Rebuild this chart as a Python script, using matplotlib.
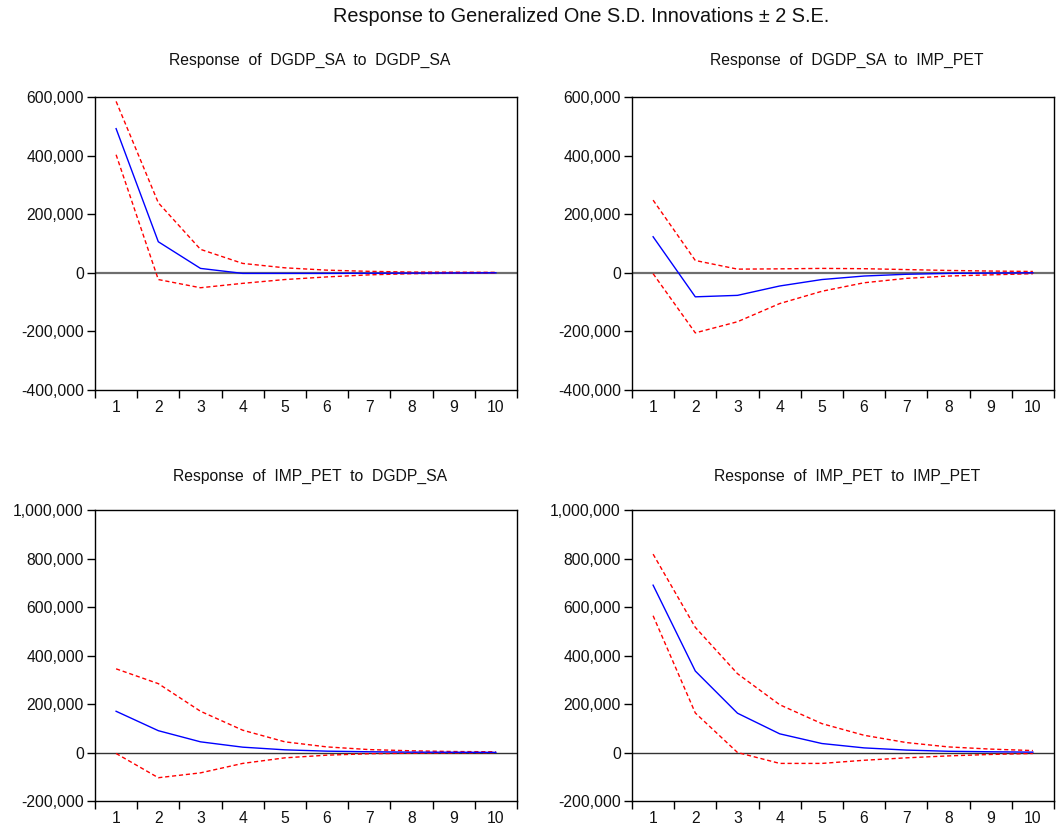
import matplotlib
matplotlib.use("Agg")
import matplotlib.pyplot as plt
from matplotlib.ticker import FuncFormatter, FixedLocator

periods = list(range(1, 11))

titles = [
    "Response  of  DGDP_SA  to  DGDP_SA",
    "Response  of  DGDP_SA  to  IMP_PET",
    "Response  of  IMP_PET  to  DGDP_SA",
    "Response  of  IMP_PET  to  IMP_PET",
]

# Response of DGDP_SA to DGDP_SA
resp_gg = [492000, 106000, 15000, -2000, -2000, -2000, -1500, -1000, -500, 0]
up_gg = [585000, 239000, 80000, 32000, 17000, 9000, 5000, 2500, 2000, 1500]
lo_gg = [403000, -23000, -51000, -36000, -23000, -14000, -7000, -3000, -1500, -500]

# Response of DGDP_SA to IMP_PET
resp_gi = [123000, -82000, -77000, -45000, -23000, -11000, -5000, -2000, -1000, 0]
up_gi = [248000, 42000, 12500, 13500, 15000, 14000, 11000, 8000, 6000, 4500]
lo_gi = [-3000, -205000, -167000, -105000, -63000, -34000, -19000, -11000, -7000, -3000]

# Response of IMP_PET to DGDP_SA
resp_ig = [170000, 90000, 44000, 22000, 11000, 5500, 3000, 1500, 1000, 500]
up_ig = [345000, 284000, 170000, 92000, 44000, 23000, 12000, 7000, 4000, 3000]
lo_ig = [-4000, -104000, -84000, -45000, -22000, -11000, -5000, -3000, -1500, -500]

# Response of IMP_PET to IMP_PET
resp_ii = [690000, 336000, 162000, 77000, 37000, 19000, 10000, 5000, 3000, 1500]
up_ii = [818000, 516000, 325000, 197000, 119000, 71000, 41000, 23000, 14000, 8000]
lo_ii = [564000, 163000, 0, -45000, -45000, -32000, -22000, -14000, -8000, -4000]

responses = [resp_gg, resp_gi, resp_ig, resp_ii]
uppers = [up_gg, up_gi, up_ig, up_ii]
lowers = [lo_gg, lo_gi, lo_ig, lo_ii]

ylims = [(-400000, 600000), (-400000, 600000), (-200000, 1000000), (-200000, 1000000)]
yticks_top = [-400000, -200000, 0, 200000, 400000, 600000]
yticks_bot = [-200000, 0, 200000, 400000, 600000, 800000, 1000000]
yticks = [yticks_top, yticks_top, yticks_bot, yticks_bot]

W, H = 1060, 830
fig = plt.figure(figsize=(W / 100, H / 100), dpi=100)

FONT = "Liberation Sans"
FS = 11.3

# panel boxes in pixels: left, top, right, bottom
boxes = [
    (95, 97, 517, 390),
    (632, 97, 1054, 390),
    (95, 510, 517, 801),
    (632, 510, 1054, 801),
]
title_y = [60, 60, 476, 476]
zero_style = [("#6e6e6e", 1.6), ("#6e6e6e", 1.6), ("#333333", 1.0), ("#333333", 1.0)]

fmt = FuncFormatter(lambda v, p: f"{int(v):,}")

for i in range(4):
    l, t, r, b = boxes[i]
    ax = fig.add_axes([l / W, 1 - b / H, (r - l) / W, (b - t) / H])
    ax.set_xlim(0.5, 10.5)
    ax.set_ylim(*ylims[i])
    ax.axhline(0, color=zero_style[i][0], lw=zero_style[i][1], zorder=1)
    ax.plot(periods, uppers[i], color="#ff0000", lw=1.0, ls=(0, (3, 2)), zorder=2)
    ax.plot(periods, lowers[i], color="#ff0000", lw=1.0, ls=(0, (3, 2)), zorder=2)
    ax.plot(periods, responses[i], color="#0000ff", lw=1.0, zorder=3)

    ax.xaxis.set_major_locator(FixedLocator(periods))
    ax.xaxis.set_minor_locator(FixedLocator([p - 0.5 for p in periods] + [10.5]))
    ax.tick_params(axis="x", which="major", length=0, pad=7.5, labelsize=FS)
    ax.tick_params(axis="x", which="minor", length=5.5, width=1.0, direction="out", color="black")
    ax.set_yticks(yticks[i])
    ax.yaxis.set_major_formatter(fmt)
    ax.tick_params(axis="y", which="major", length=5.5, width=1.0, direction="out", pad=2.5, labelsize=FS)
    for lab in ax.get_xticklabels() + ax.get_yticklabels():
        lab.set_fontfamily(FONT)
        lab.set_color("#111111")
    for sp in ax.spines.values():
        sp.set_linewidth(1.0)
        sp.set_color("black")

    cx = (l + r) / 2 + 4
    fig.text(cx / W, 1 - title_y[i] / H, titles[i], ha="center", va="center",
             fontsize=FS, family=FONT, color="#111111")

fig.text(581 / W, 1 - 16 / H, "Response to Generalized One S.D. Innovations \u00b1 2 S.E.",
         ha="center", va="center", fontsize=14.3, family=FONT, color="#111111")

fig.savefig("out.png", dpi=100)
